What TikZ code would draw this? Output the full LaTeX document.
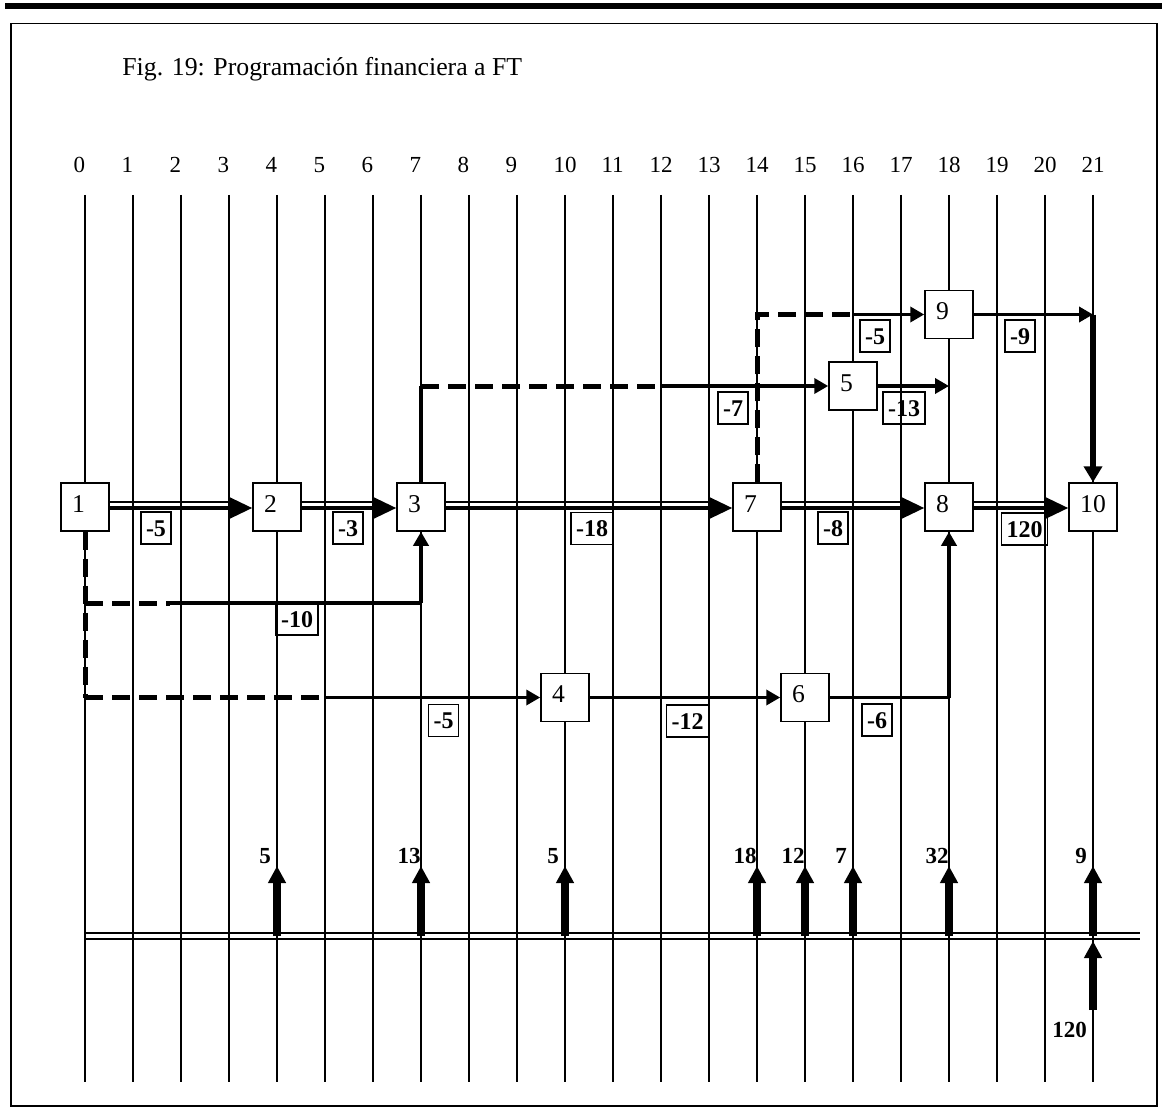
\documentclass[tikz,border=0pt]{standalone}
\usepackage{fontspec}
\setmainfont{Liberation Serif}
\usetikzlibrary{arrows.meta}
\begin{document}
\begin{tikzpicture}[x=0.5pt,y=-0.5pt,
  gridline/.style={line width=0.85pt},
  axislbl/.style={anchor=base,inner sep=0pt,font=\fontsize{11.5}{13}\selectfont},
  nodebox/.style={draw,line width=0.75pt,fill=white,minimum width=24pt,minimum height=24pt,
    inner sep=0pt,text height=8.6pt,text depth=3.5pt,font=\fontsize{12.8}{14}\selectfont},
  valbox/.style={draw,line width=0.7pt,inner xsep=2.5pt,inner ysep=0pt,minimum height=16pt,
    text height=8.2pt,text depth=0pt,font=\fontsize{12}{14}\selectfont\bfseries},
  mainthick/.style={line width=1.75pt,-{Triangle[length=12pt,width=11pt]}},
  mainthin/.style={line width=0.75pt,shorten >=12pt},
  conn/.style={line width=1.9pt},
  connarr/.style={conn,-{Triangle[length=7pt,width=7.5pt]}},
  dashconn/.style={line width=2.5pt,dash pattern=on 9pt off 4.5pt},
  flow/.style={line width=4pt,-{Triangle[length=8.5pt,width=8.5pt]}},
  flowlbl/.style={anchor=base,inner sep=0pt,font=\fontsize{11.5}{13}\selectfont\bfseries}
]
\useasboundingbox (0,0) rectangle (1165,1112);
% top rule and frame
\draw[line width=1.7pt] (5,5) -- (1162,5);
\draw[line width=0.7pt] (5,8) -- (1162,8);
\draw[line width=0.75pt] (11,23.5) rectangle (1157,1106);
% title
\node[anchor=base west,inner sep=0pt,font=\fontsize{12.9}{15}\selectfont] (title) at (122,76)
  {Fig. 19: Programación financiera a FT};
% grid and time axis
\foreach \i in {0,...,21} {
  \draw[gridline] ({85+48*\i},195) -- ({85+48*\i},1082);
  \node[axislbl] (t\i) at ({85+48*\i},173) {\makebox[1em][l]{\i}};
}
% bottom double line
\draw[line width=1pt] (85,933) -- (1140,933);
\draw[line width=1pt] (85,939) -- (1140,939);
% event nodes
\node[nodebox] (n1) at (85,507) {\makebox[1em][l]{1}};
\node[nodebox] (n2) at (277,507) {\makebox[1em][l]{2}};
\node[nodebox] (n3) at (421,507) {\makebox[1em][l]{3}};
\node[nodebox] (n7) at (757,507) {\makebox[1em][l]{7}};
\node[nodebox] (n8) at (949,507) {\makebox[1em][l]{8}};
\node[nodebox] (n10) at (1093,507) {\makebox[1em][l]{10}};
\node[nodebox] (n4) at (565,697.5) {\makebox[1em][l]{4}};
\node[nodebox] (n6) at (805,697.5) {\makebox[1em][l]{6}};
\node[nodebox] (n5) at (853,386) {\makebox[1em][l]{5}};
\node[nodebox] (n9) at (949,314.5) {\makebox[1em][l]{9}};
% helper coordinates
\coordinate (c13a) at (85,603);
\coordinate (c13b) at (170,603);
\coordinate (c13c) at (421,603);
\coordinate (c14a) at (85,697.5);
\coordinate (c14b) at (325,697.5);
\coordinate (c35a) at (421,386);
\coordinate (c35b) at (661,386);
\coordinate (c55) at (949,386);
\coordinate (c79a) at (757,314.5);
\coordinate (c79b) at (853,314.5);
\coordinate (c910) at (1093,314.5);
\coordinate (c68) at (949,697.5);
% main double-line activities
\foreach \a/\b in {n1/n2,n2/n3,n3/n7,n7/n8,n8/n10} {
  \draw[mainthick] ([yshift=-0.5pt]\a.east) -- ([yshift=-0.5pt]\b.west);
  \draw[mainthin] ([yshift=2.5pt]\a.east) -- ([yshift=2.5pt]\b.west);
}
% 1 -> 3 (via row 603)
\draw[dashconn] (n1.south) -- (c14a);
\draw[dashconn] (c13a) -- (c13b);
\draw[conn] (c13b) -- (c13c);
\draw[connarr] (c13c) -- (n3.south);
% 1 -> 4
\draw[dashconn] (c14a) -- (c14b);
\draw[connarr] (c14b) -- (n4.west);
% 4 -> 6 -> 8
\draw[connarr] (n4.east) -- (n6.west);
\draw[conn] (n6.east) -- (c68);
\draw[connarr] (c68) -- (n8.south);
% 3 -> 5 -> (18)
\draw[conn] (n3.north) -- (c35a);
\draw[dashconn] (c35a) -- (c35b);
\draw[connarr] (c35b) -- (n5.west);
\draw[connarr] (n5.east) -- (c55);
% 7 -> 9 -> 10
\draw[dashconn] (n7.north) -- (c79a) -- (c79b);
\draw[connarr] (c79b) -- (n9.west);
\draw[connarr] (n9.east) -- (c910);
\draw[line width=2.75pt,-{Triangle[length=8pt,width=9pt]}] (c910) -- (n10.north);
% value boxes
\node[valbox] (l12) at (156,528) {-5};
\node[valbox] (l23) at (348,528) {-3};
\node[valbox] (l37) at (592,528.5) {-18};
\node[valbox] (l78) at (833,528) {-8};
\node[valbox] (l810) at (1024.5,529) {120};
\node[valbox] (l13) at (297,619) {-10};
\node[valbox] (l14) at (443.5,720.5) {-5};
\node[valbox] (l46) at (687.5,721) {-12};
\node[valbox] (l68) at (877,720) {-6};
\node[valbox] (l35) at (733,408) {-7};
\node[valbox] (l55) at (904,408) {-13};
\node[valbox] (l79) at (875,336) {-5};
\node[valbox] (l910) at (1020,336) {-9};
% cash flows
\foreach \x/\v/\n in {277/5/a,421/13/b,565/5/c,757/18/d,805/12/e,853/7/f,949/32/g,1093/9/h} {
  \coordinate (fb\n) at (\x,936);
  \coordinate (ft\n) at (\x,866);
  \draw[flow] (fb\n) -- (ft\n);
  \node[flowlbl] (fl\n) at ({\x-12},863) {\v};
}
\coordinate (fbx) at (1093,1010);
\coordinate (ftx) at (1093,941);
\draw[flow] (fbx) -- (ftx);
\node[flowlbl] (flx) at (1069.5,1037) {120};
\end{tikzpicture}
\end{document}
